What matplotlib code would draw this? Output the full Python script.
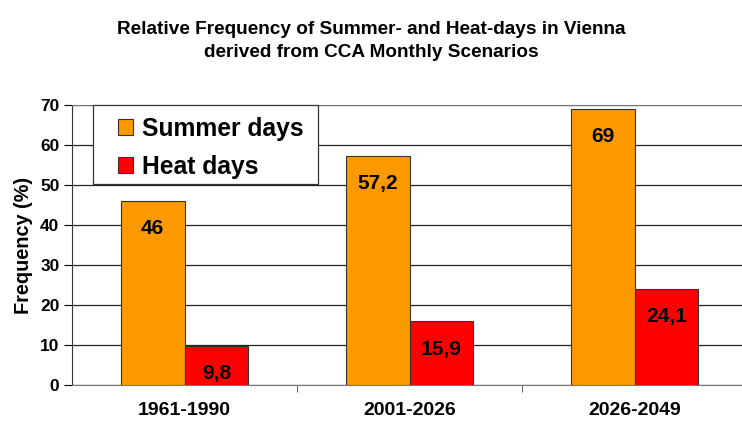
import matplotlib.pyplot as plt
from matplotlib.patches import Rectangle
import numpy as np

# %% DATA
periods = ['1961-1990', '2001-2026', '2026-2049']
summer_days = [46, 57.2, 69]
heat_days = [9.8, 15.9, 24.1]
summer_labels = ['46', '57,2', '69']
heat_labels = ['9,8', '15,9', '24,1']

# %% PLOT
plt.rcParams['font.family'] = ['Liberation Sans', 'DejaVu Sans']
plt.rcParams['font.weight'] = 'bold'

W, H = 742, 426
fig = plt.figure(figsize=(W / 100, H / 100), dpi=100)
ax = fig.add_axes([72 / W, 41 / H, 675 / W, 280 / H])

x = np.arange(len(periods))
w = 0.284
b1 = ax.bar(x - w / 2, summer_days, w, color='#FF9900', edgecolor='#333333',
            linewidth=0.8, label='Summer days', zorder=3)
b2 = ax.bar(x + w / 2, heat_days, w, color='#FF0000', edgecolor='#333333',
            linewidth=0.8, label='Heat days', zorder=3)

for bars, labels in [(b1, summer_labels), (b2, heat_labels)]:
    for bar, lab in zip(bars, labels):
        ax.annotate(lab, (bar.get_x() + bar.get_width() / 2, bar.get_height()),
                    xytext=(0, -20), textcoords='offset points',
                    ha='center', va='center', fontsize=15, fontweight='bold',
                    zorder=4)

ax.set_xlim(-0.5, 2.5)
ax.set_ylim(0, 70)
ax.set_yticks(range(0, 71, 10))
ax.set_xticks(x)
ax.set_xticklabels(periods, fontsize=14, fontweight='bold')
ax.set_xticks([0.5, 1.5], minor=True)
ax.tick_params(axis='x', which='major', length=0, pad=12)
ax.tick_params(axis='x', which='minor', length=5, color='#444444')
ax.tick_params(axis='y', length=6, labelsize=12.5, pad=3)
for lab in ax.get_yticklabels():
    lab.set_fontweight('bold')

ax.yaxis.grid(True, color='#222222', linewidth=0.9, zorder=0)
for s in ['top', 'right', 'bottom']:
    ax.spines[s].set_color('#777777')
ax.spines['left'].set_color('#333333')

ax.set_ylabel('Frequency (%)', fontsize=14.3, fontweight='bold', labelpad=5)

fig.suptitle('Relative Frequency of Summer- and Heat-days in Vienna\nderived from CCA Monthly Scenarios',
             fontsize=13.7, fontweight='bold', y=1 - 21 / H, va='top', linespacing=1.45)

# legend box (Excel style: wide left padding)
fig.patches.append(Rectangle((93 / W, 1 - 184 / H), 225 / W, 79 / H,
                             transform=fig.transFigure, facecolor='white',
                             edgecolor='#333333', linewidth=0.9, zorder=5))
leg = ax.legend(loc='upper left', bbox_to_anchor=(118 / W, 1 - 117 / H),
                bbox_transform=fig.transFigure,
                prop={'weight': 'bold', 'size': 17.7}, frameon=False,
                handlelength=0.62, handleheight=0.62, handletextpad=0.35,
                borderpad=0, labelspacing=0.55, borderaxespad=0)
leg.set_zorder(6)
leg.remove()
fig.legends.append(leg)

fig.savefig('out.png', dpi=100)
